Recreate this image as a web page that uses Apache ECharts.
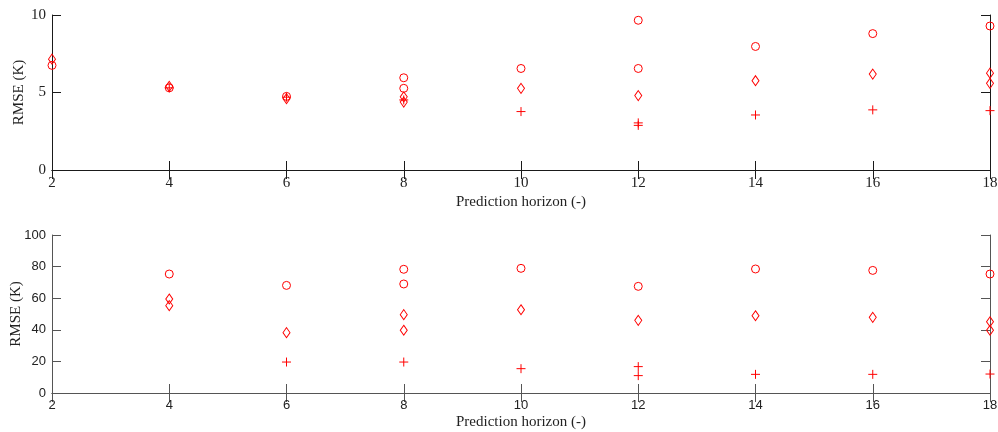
<!DOCTYPE html>
<html>
<head>
<meta charset="utf-8">
<title>RMSE vs prediction horizon</title>
<script src="https://cdn.jsdelivr.net/npm/echarts@6/dist/echarts.min.js"></script>
<style>
  html, body { margin: 0; padding: 0; background: #ffffff; }
  #chart { width: 998px; height: 432px; }
</style>
</head>
<body>
<div id="chart"></div>
<script>
// Prediction horizon tick values shared by both panels
const horizonTicks = [2, 4, 6, 8, 10, 12, 14, 16, 18];
const topYTicks = [0, 5, 10];
const bottomYTicks = [0, 20, 40, 60, 80, 100];

// Upper panel: [horizon, RMSE] pairs per marker type
const topCircles = [[2, 6.75], [4, 5.3], [6, 4.75], [8, 5.95], [8, 5.27], [10, 6.55], [12, 9.66], [12, 6.55], [14, 7.97], [16, 8.8], [18, 9.29]];
const topDiamonds = [[2, 7.15], [4, 5.4], [6, 4.6], [8, 4.72], [8, 4.38], [10, 5.27], [12, 4.8], [14, 5.76], [16, 6.19], [18, 6.25], [18, 5.59]];
const topPluses = [[4, 5.3], [6, 4.7], [8, 4.52], [10, 3.77], [12, 3.04], [12, 2.88], [14, 3.55], [16, 3.88], [18, 3.83]];

// Lower panel: [horizon, RMSE] pairs per marker type
const bottomCircles = [[4, 75.3], [6, 68.1], [8, 78.3], [8, 69.0], [10, 78.9], [12, 67.5], [14, 78.5], [16, 77.6], [18, 75.3]];
const bottomDiamonds = [[4, 59.5], [4, 55.3], [6, 38.2], [8, 49.6], [8, 39.7], [10, 52.7], [12, 46.0], [14, 48.9], [16, 47.9], [18, 45.1], [18, 39.7]];
const bottomPluses = [[6, 19.6], [8, 19.6], [10, 15.4], [12, 16.7], [12, 11.0], [14, 11.8], [16, 11.8], [18, 12.0]];

const RED = '#ff0000';
const PLUS_PATH = 'path://M0,5H10M5,0V10';
const SERIF = '"Liberation Serif", "Times New Roman", serif';
const SANS = '"Liberation Sans", Arial, sans-serif';

function xAxes(gridIndex, labelFont, lineColor, nameGap) {
  const base = {
    type: 'value',
    gridIndex: gridIndex,
    min: horizonTicks[0],
    max: horizonTicks[horizonTicks.length - 1],
    interval: horizonTicks[1] - horizonTicks[0],
    splitLine: { show: false },
    axisLine: { show: true, lineStyle: { color: lineColor, width: 1 } },
    axisTick: { show: true, inside: true, length: 9, lineStyle: { color: lineColor } }
  };
  return [
    Object.assign({}, base, {
      position: 'bottom',
      name: 'Prediction horizon (-)',
      nameLocation: 'middle',
      nameGap: nameGap,
      nameMoveOverlap: false,
      nameTextStyle: { fontFamily: SERIF, fontSize: 15, color: '#222' },
      axisLabel: { show: true, margin: 6, fontFamily: labelFont, fontSize: labelFont === SERIF ? 15 : 13, color: '#222' }
    }),
    Object.assign({}, base, { position: 'top', axisLabel: { show: false } })
  ];
}

function yAxes(gridIndex, ticks, labelFont, lineColor, nameGap) {
  const base = {
    type: 'value',
    gridIndex: gridIndex,
    min: ticks[0],
    max: ticks[ticks.length - 1],
    interval: ticks[1] - ticks[0],
    splitLine: { show: false },
    axisLine: { show: true, lineStyle: { color: lineColor, width: 1 } },
    axisTick: { show: true, inside: true, length: 9, lineStyle: { color: lineColor } }
  };
  return [
    Object.assign({}, base, {
      position: 'left',
      name: 'RMSE (K)',
      nameLocation: 'middle',
      nameRotate: 90,
      nameGap: nameGap,
      nameMoveOverlap: false,
      nameTextStyle: { fontFamily: SERIF, fontSize: 15, color: '#222' },
      axisLabel: { show: true, margin: 6, fontFamily: labelFont, fontSize: labelFont === SERIF ? 15 : 13, color: '#222' }
    }),
    Object.assign({}, base, { position: 'right', axisLabel: { show: false } })
  ];
}

function markerSeries(data, symbol, size, xIdx, yIdx) {
  return {
    type: 'scatter',
    xAxisIndex: xIdx,
    yAxisIndex: yIdx,
    data: data,
    symbol: symbol,
    symbolSize: size,
    clip: false,
    itemStyle: { color: 'transparent', borderColor: RED, borderWidth: 1, opacity: 1 },
    emphasis: { disabled: true }
  };
}

const chart = echarts.init(document.getElementById('chart'), null, { renderer: 'canvas' });
chart.setOption({
  animation: false,
  backgroundColor: '#ffffff',
  grid: [
    { left: 52, right: 8, top: 15, height: 155, containLabel: false, outerBoundsMode: 'none' },
    { left: 52, right: 8, top: 235, height: 158, containLabel: false, outerBoundsMode: 'none' }
  ],
  xAxis: [].concat(xAxes(0, SERIF, '#1a1a1a', 25), xAxes(1, SANS, '#555555', 22)),
  yAxis: [].concat(yAxes(0, topYTicks, SERIF, '#1a1a1a', 25), yAxes(1, bottomYTicks, SANS, '#555555', 28)),
  series: [
    markerSeries(topCircles, 'circle', 8, 0, 0),
    markerSeries(topDiamonds, 'diamond', [7, 10], 0, 0),
    markerSeries(topPluses, PLUS_PATH, 9, 0, 0),
    markerSeries(bottomCircles, 'circle', 8, 2, 2),
    markerSeries(bottomDiamonds, 'diamond', [7, 10], 2, 2),
    markerSeries(bottomPluses, PLUS_PATH, 9, 2, 2)
  ]
});
</script>
</body>
</html>
